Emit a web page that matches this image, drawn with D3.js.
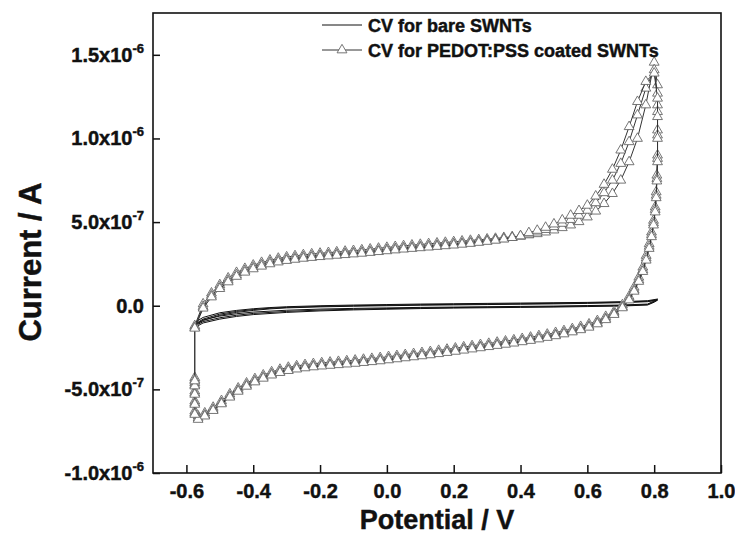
<!DOCTYPE html>
<html>
<head>
<meta charset="utf-8">
<script src="https://cdn.jsdelivr.net/npm/d3@7"></script>
<style>
  html, body { margin: 0; padding: 0; background: #fff; }
  svg { display: block; }
  svg text { font-family: "Liberation Sans", Arial, sans-serif; font-weight: bold; stroke: #111; stroke-width: 0.45px; }
</style>
</head>
<body>
<svg id="chart" width="735" height="549"></svg>
<script>
// ---------- DATA (current in units of 1e-7 A, potential in V) ----------
const xTickValues = [-0.6, -0.4, -0.2, 0.0, 0.2, 0.4, 0.6, 0.8, 1.0];
const xTickLabels = ["-0.6", "-0.4", "-0.2", "0.0", "0.2", "0.4", "0.6", "0.8", "1.0"];
const yTickValues = [-10, -5, 0, 5, 10, 15];
const yTickMantissa = ["-1.0x10", "-5.0x10", "0.0", "5.0x10", "1.0x10", "1.5x10"];
const yTickExponent = ["-6", "-7", "", "-7", "-6", "-6"];

const seriesNames = ["CV for bare SWNTs", "CV for PEDOT:PSS coated SWNTs"];

// PEDOT:PSS coated SWNTs — anodic sweep potentials (V)
const pedotUpperV = [
  -0.575, -0.550, -0.525, -0.500, -0.475, -0.450, -0.425, -0.400, -0.375, -0.350,
  -0.325, -0.300, -0.275, -0.250, -0.225, -0.200, -0.175, -0.150, -0.125, -0.100,
  -0.075, -0.050, -0.025, 0.000, 0.025, 0.050, 0.075, 0.100, 0.125, 0.150,
  0.175, 0.200, 0.225, 0.250, 0.275, 0.300, 0.325, 0.350, 0.375, 0.400,
  0.425, 0.450, 0.475, 0.500, 0.525, 0.550, 0.575, 0.600, 0.625, 0.650,
  0.675, 0.700, 0.725, 0.750, 0.775, 0.800];
const pedotUpperC1 = [
  -1.20, 0.10, 0.75, 1.25, 1.65, 1.98, 2.22, 2.42, 2.58, 2.72,
  2.83, 2.91, 2.98, 3.04, 3.09, 3.13, 3.17, 3.21, 3.25, 3.29,
  3.33, 3.38, 3.43, 3.48, 3.53, 3.58, 3.62, 3.66, 3.70, 3.74,
  3.78, 3.82, 3.86, 3.90, 3.94, 3.98, 4.02, 4.07, 4.12, 4.17,
  4.23, 4.30, 4.40, 4.52, 4.66, 4.82, 5.02, 5.30, 5.65, 6.10,
  6.70, 7.50, 8.60, 10.00, 12.00, 14.55];
const pedotUpperC2 = [
  -1.30, -0.05, 0.62, 1.12, 1.52, 1.85, 2.10, 2.30, 2.46, 2.60,
  2.71, 2.79, 2.86, 2.92, 2.97, 3.01, 3.05, 3.09, 3.13, 3.17,
  3.21, 3.26, 3.31, 3.36, 3.41, 3.46, 3.50, 3.54, 3.58, 3.62,
  3.66, 3.70, 3.74, 3.79, 3.84, 3.89, 3.94, 4.00, 4.07, 4.15,
  4.28, 4.40, 4.55, 4.72, 4.92, 5.15, 5.40, 5.70, 6.15, 6.75,
  7.50, 8.50, 9.80, 11.40, 13.00, 14.10];
const pedotUpperC3 = [
  -1.35, -0.15, 0.52, 1.02, 1.42, 1.75, 2.00, 2.20, 2.36, 2.50,
  2.61, 2.70, 2.77, 2.83, 2.88, 2.93, 2.97, 3.01, 3.05, 3.09,
  3.13, 3.18, 3.23, 3.28, 3.33, 3.38, 3.42, 3.46, 3.50, 3.54,
  3.58, 3.62, 3.67, 3.72, 3.78, 3.84, 3.91, 3.98, 4.07, 4.17,
  4.36, 4.50, 4.68, 4.88, 5.12, 5.40, 5.68, 6.00, 6.55, 7.25,
  8.15, 9.30, 10.70, 12.20, 13.40, 13.90];

// PEDOT:PSS coated SWNTs — cathodic sweep potentials (V)
const pedotLowerV = [
  0.810, 0.810, 0.810, 0.810, 0.808, 0.806, 0.803, 0.798, 0.792, 0.785,
  0.776, 0.766, 0.754, 0.740, 0.725, 0.705, 0.680, 0.655, 0.630, 0.605,
  0.580, 0.555, 0.530, 0.505, 0.480, 0.455, 0.430, 0.405, 0.380, 0.355,
  0.330, 0.305, 0.280, 0.255, 0.230, 0.205, 0.180, 0.155, 0.130, 0.105,
  0.080, 0.055, 0.030, 0.005, -0.020, -0.045, -0.070, -0.095, -0.120, -0.145,
  -0.170, -0.195, -0.220, -0.245, -0.270, -0.295, -0.320, -0.345, -0.370, -0.395,
  -0.420, -0.445, -0.470, -0.495, -0.520, -0.545, -0.565, -0.575, -0.575, -0.575,
  -0.575, -0.575];
const pedotLowerC1 = [
  13.20, 12.00, 10.50, 9.00, 7.80, 6.80, 5.90, 5.10, 4.40, 3.70,
  3.00, 2.30, 1.70, 1.10, 0.55, 0.05, -0.35, -0.65, -0.90, -1.10,
  -1.25, -1.38, -1.50, -1.61, -1.71, -1.80, -1.89, -1.97, -2.05, -2.12,
  -2.19, -2.26, -2.33, -2.40, -2.47, -2.54, -2.61, -2.68, -2.75, -2.81,
  -2.87, -2.93, -2.99, -3.05, -3.11, -3.16, -3.21, -3.26, -3.30, -3.34,
  -3.38, -3.42, -3.47, -3.53, -3.60, -3.69, -3.81, -3.96, -4.15, -4.37,
  -4.63, -4.93, -5.28, -5.68, -6.08, -6.42, -6.60, -6.30, -5.70, -5.10,
  -4.60, -4.30];
const pedotLowerC2 = [
  12.70, 11.60, 10.20, 8.80, 7.60, 6.60, 5.75, 4.95, 4.25, 3.55,
  2.85, 2.15, 1.55, 0.95, 0.42, -0.06, -0.46, -0.77, -1.02, -1.22,
  -1.37, -1.50, -1.62, -1.73, -1.83, -1.92, -2.01, -2.09, -2.17, -2.24,
  -2.31, -2.38, -2.45, -2.52, -2.59, -2.66, -2.73, -2.80, -2.87, -2.93,
  -2.99, -3.05, -3.11, -3.17, -3.23, -3.28, -3.33, -3.38, -3.42, -3.46,
  -3.50, -3.54, -3.59, -3.65, -3.72, -3.81, -3.93, -4.08, -4.27, -4.49,
  -4.75, -5.05, -5.40, -5.80, -6.20, -6.54, -6.72, -6.42, -5.82, -5.22,
  -4.72, -4.42];
const pedotLowerC3 = [
  12.40, 11.30, 10.00, 8.60, 7.45, 6.45, 5.60, 4.82, 4.12, 3.42,
  2.72, 2.04, 1.45, 0.86, 0.34, -0.13, -0.53, -0.84, -1.09, -1.29,
  -1.44, -1.57, -1.69, -1.80, -1.90, -1.99, -2.08, -2.16, -2.24, -2.31,
  -2.38, -2.45, -2.52, -2.59, -2.66, -2.73, -2.80, -2.87, -2.94, -3.00,
  -3.06, -3.12, -3.18, -3.24, -3.30, -3.35, -3.40, -3.45, -3.49, -3.53,
  -3.57, -3.61, -3.66, -3.72, -3.79, -3.88, -4.00, -4.15, -4.34, -4.56,
  -4.82, -5.12, -5.47, -5.87, -6.27, -6.60, -6.80, -6.50, -5.90, -5.30,
  -4.80, -4.50];

// Bare SWNTs
const bareUpperV = [-0.575, -0.55, -0.50, -0.45, -0.40, -0.35, -0.30, -0.20, -0.10, 0.00,
  0.10, 0.20, 0.30, 0.40, 0.50, 0.60, 0.70, 0.78, 0.81];
const bareLowerV = [0.81, 0.80, 0.78, 0.70, 0.60, 0.50, 0.40, 0.30, 0.20, 0.10,
  0.00, -0.10, -0.20, -0.30, -0.40, -0.45, -0.50, -0.55, -0.575];
const bareUpperC1 = [-1.00, -0.70, -0.42, -0.28, -0.18, -0.11, -0.06, 0.00, 0.04, 0.07,
  0.10, 0.12, 0.14, 0.16, 0.18, 0.20, 0.24, 0.30, 0.40];
const bareLowerC1 = [0.40, 0.28, 0.10, 0.04, 0.01, -0.02, -0.04, -0.06, -0.08, -0.10,
  -0.13, -0.16, -0.20, -0.27, -0.38, -0.48, -0.62, -0.85, -1.15];
const bareUpperC2 = [-1.10, -0.80, -0.50, -0.34, -0.23, -0.15, -0.10, -0.04, 0.00, 0.03,
  0.06, 0.08, 0.10, 0.12, 0.14, 0.17, 0.21, 0.27, 0.36];
const bareLowerC2 = [0.36, 0.24, 0.07, 0.01, -0.02, -0.05, -0.07, -0.09, -0.11, -0.14,
  -0.17, -0.21, -0.26, -0.34, -0.46, -0.57, -0.72, -0.95, -1.22];
const bareUpperC3 = [-1.18, -0.88, -0.57, -0.40, -0.28, -0.19, -0.13, -0.07, -0.03, 0.00,
  0.03, 0.05, 0.07, 0.09, 0.11, 0.14, 0.18, 0.24, 0.33];
const bareLowerC3 = [0.33, 0.21, 0.04, -0.02, -0.05, -0.08, -0.10, -0.12, -0.14, -0.17,
  -0.21, -0.25, -0.31, -0.40, -0.53, -0.64, -0.80, -1.03, -1.30];

// ---------- LAYOUT ----------
const svg = d3.select("#chart");
const plot = { left: 153, right: 721, top: 13, bottom: 473 };

const x = d3.scaleLinear().domain([-0.7, 1.0]).range([plot.left, plot.right]);
const y = d3.scaleLinear().domain([-10, 17.5]).range([plot.bottom, plot.top]);

function zipPts(vs, cs) { return vs.map((v, i) => [v, cs[i]]); }

const pedotCycles = [
  zipPts(pedotUpperV, pedotUpperC1).concat(zipPts(pedotLowerV, pedotLowerC1)),
  zipPts(pedotUpperV, pedotUpperC2).concat(zipPts(pedotLowerV, pedotLowerC2)),
  zipPts(pedotUpperV, pedotUpperC3).concat(zipPts(pedotLowerV, pedotLowerC3))
];
const bareCycles = [
  zipPts(bareUpperV, bareUpperC1).concat(zipPts(bareLowerV, bareLowerC1)),
  zipPts(bareUpperV, bareUpperC2).concat(zipPts(bareLowerV, bareLowerC2)),
  zipPts(bareUpperV, bareUpperC3).concat(zipPts(bareLowerV, bareLowerC3))
];

const line = d3.line().x(d => x(d[0])).y(d => y(d[1]));
const tri = d3.symbol().type(d3.symbolTriangle).size(42);

const g = svg.append("g");

// bare SWNTs (single continuous trace through its cycles)
const bareAll = [].concat(...bareCycles);
g.append("path").datum(bareAll)
  .attr("d", line).attr("fill", "none")
  .attr("stroke", "#111").attr("stroke-width", 1);

// PEDOT cycles: line + open triangles
pedotCycles.forEach((pts, ci) => {
  const withJoin = ci > 0 ? [pedotCycles[ci - 1][pedotCycles[ci - 1].length - 1]].concat(pts) : pts;
  g.append("path").datum(withJoin)
    .attr("d", line).attr("fill", "none")
    .attr("stroke", "#333").attr("stroke-width", 1);
  g.append("g").selectAll("path").data(pts).join("path")
    .attr("d", tri)
    .attr("transform", d => `translate(${x(d[0])},${y(d[1])})`)
    .attr("fill", "#fff").attr("stroke", "#666").attr("stroke-width", 0.9);
});

// ---------- FRAME & AXES ----------
svg.append("rect")
  .attr("x", plot.left).attr("y", plot.top)
  .attr("width", plot.right - plot.left).attr("height", plot.bottom - plot.top)
  .attr("fill", "none").attr("stroke", "#111").attr("stroke-width", 1.6);

const xAxis = d3.axisBottom(x).tickValues(xTickValues)
  .tickFormat((d, i) => xTickLabels[i]).tickSizeInner(-8).tickSizeOuter(0).tickPadding(11);
const xg = svg.append("g").attr("transform", `translate(0,${plot.bottom})`).call(xAxis);
xg.select(".domain").remove();
xg.selectAll(".tick line").attr("stroke", "#111").attr("stroke-width", 1.5);
xg.selectAll(".tick text").attr("font-size", 20).attr("font-weight", "bold")
  .attr("font-family", "'Liberation Sans', Arial, sans-serif").attr("fill", "#111");

const yAxis = d3.axisLeft(y).tickValues(yTickValues).tickFormat("").tickSizeInner(-7).tickSizeOuter(0);
const yg = svg.append("g").attr("transform", `translate(${plot.left},0)`).call(yAxis);
yg.select(".domain").remove();
yg.selectAll(".tick line").attr("stroke", "#111").attr("stroke-width", 1.5);

yTickValues.forEach((v, i) => {
  const t = svg.append("text")
    .attr("x", 144).attr("y", y(v) + 7)
    .attr("text-anchor", "end")
    .attr("font-size", 20).attr("font-weight", "bold").attr("fill", "#111");
  t.append("tspan").text(yTickMantissa[i]);
  if (yTickExponent[i]) {
    t.append("tspan").attr("dy", -9).attr("font-size", 13).text(yTickExponent[i]);
  }
});

// axis titles
svg.append("text")
  .attr("x", (plot.left + plot.right) / 2).attr("y", 529)
  .attr("text-anchor", "middle").attr("font-size", 27).attr("font-weight", "bold").attr("fill", "#111")
  .text("Potential / V");
svg.append("text")
  .attr("transform", `translate(41,262) rotate(-90)`)
  .attr("text-anchor", "middle").attr("font-size", 31).attr("font-weight", "bold").attr("fill", "#111")
  .text("Current / A");

// ---------- LEGEND ----------
const leg = svg.append("g");
const legRows = [25, 50];
leg.append("line").attr("x1", 322).attr("x2", 362).attr("y1", legRows[0]).attr("y2", legRows[0])
  .attr("stroke", "#111").attr("stroke-width", 1);
leg.append("line").attr("x1", 322).attr("x2", 362).attr("y1", legRows[1]).attr("y2", legRows[1])
  .attr("stroke", "#333").attr("stroke-width", 1);
leg.append("path").attr("d", tri).attr("transform", `translate(342,${legRows[1]})`)
  .attr("fill", "#fff").attr("stroke", "#666").attr("stroke-width", 0.9);
seriesNames.forEach((name, i) => {
  leg.append("text").attr("x", 368).attr("y", legRows[i] + 6.5)
    .attr("font-size", 18).attr("font-weight", "bold").attr("fill", "#111").text(name);
});
</script>
</body>
</html>
